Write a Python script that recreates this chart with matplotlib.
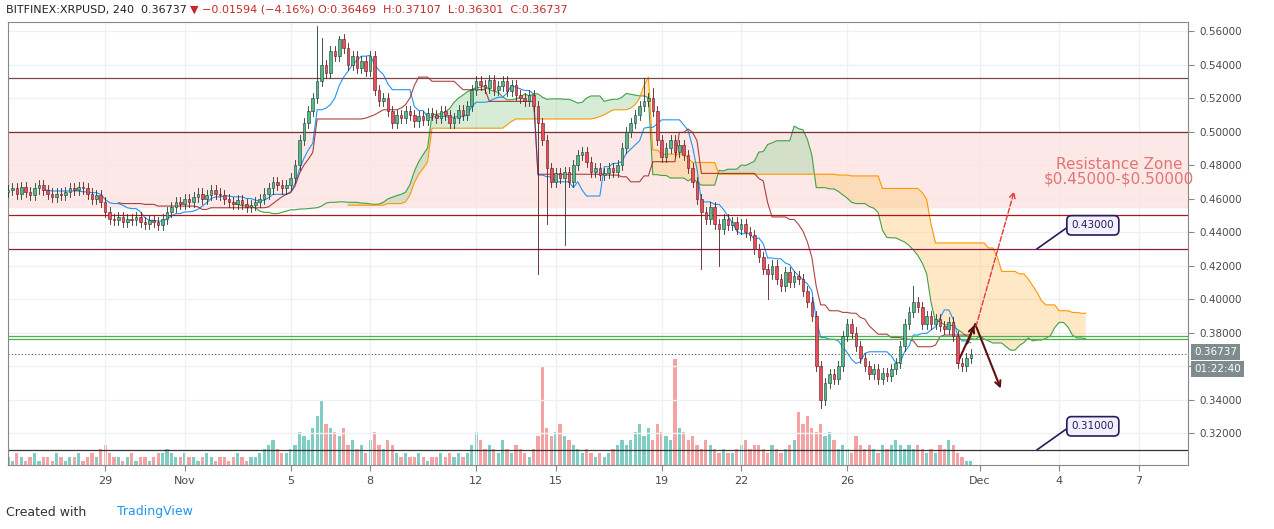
import numpy as np
import pandas as pd
import matplotlib.pyplot as plt
import matplotlib.dates as mdates

# 4h closes, BITFINEX:XRPUSD, from Oct 25 08:00
closes = [
    0.465, 0.466, 0.463, 0.467, 0.464, 0.462, 0.466, 0.468, 0.465, 0.463, 0.461, 0.463,
    0.462, 0.464, 0.466, 0.465, 0.467, 0.466, 0.463, 0.460, 0.462, 0.458, 0.452, 0.448,
    0.447, 0.449, 0.446, 0.448, 0.447, 0.449, 0.446, 0.445, 0.447, 0.446, 0.444, 0.448,
    0.452, 0.455, 0.458, 0.457, 0.460, 0.458, 0.461, 0.463, 0.460, 0.462, 0.465, 0.463,
    0.462, 0.460, 0.458, 0.457, 0.459, 0.457, 0.455, 0.456, 0.458, 0.460, 0.463, 0.466,
    0.470, 0.468, 0.466, 0.468, 0.472, 0.480, 0.495, 0.505, 0.512, 0.520, 0.530, 0.540,
    0.535, 0.548, 0.545, 0.555, 0.550, 0.540, 0.545, 0.538, 0.542, 0.536, 0.545, 0.525,
    0.518, 0.520, 0.512, 0.505, 0.510, 0.508, 0.512, 0.510, 0.506, 0.509, 0.507, 0.511,
    0.510, 0.508, 0.512, 0.510, 0.505, 0.508, 0.513, 0.510, 0.515, 0.525, 0.530, 0.528,
    0.526, 0.531, 0.525, 0.527, 0.530, 0.524, 0.528, 0.522, 0.520, 0.518, 0.522, 0.515,
    0.505, 0.495, 0.478, 0.470, 0.475, 0.472, 0.476, 0.470, 0.480, 0.486, 0.488, 0.482,
    0.476, 0.478, 0.474, 0.475, 0.478, 0.476, 0.480, 0.490, 0.500, 0.505, 0.510, 0.515,
    0.518, 0.520, 0.512, 0.495, 0.485, 0.490, 0.495, 0.488, 0.492, 0.486, 0.478, 0.470,
    0.460, 0.452, 0.448, 0.455, 0.445, 0.442, 0.448, 0.444, 0.446, 0.442, 0.445, 0.440,
    0.438, 0.430, 0.425, 0.418, 0.415, 0.420, 0.412, 0.408, 0.416, 0.410, 0.414, 0.412,
    0.405, 0.398, 0.390, 0.360, 0.340, 0.350, 0.355, 0.352, 0.360, 0.378, 0.385, 0.380,
    0.372, 0.365, 0.360, 0.355, 0.358, 0.352, 0.356, 0.354, 0.358, 0.362, 0.372, 0.385,
    0.392, 0.398, 0.395, 0.385, 0.390, 0.385, 0.388, 0.384, 0.382, 0.386, 0.378, 0.362,
    0.360, 0.365, 0.36737,
]
first_open = 0.464
# notable wicks (index: value)
long_highs = {70: 0.563, 71: 0.556, 75: 0.557, 144: 0.532, 146: 0.526, 205: 0.408}
long_lows = {120: 0.415, 122: 0.445, 126: 0.432, 157: 0.418, 161: 0.420, 172: 0.400, 184: 0.335, 216: 0.357}
wick = 0.003

volumes = [
    2, 1, 3, 2, 1, 2, 3, 1, 2, 2, 1, 3, 2, 1, 2, 2, 3, 1, 2, 3, 2, 4, 5, 3,
    2, 2, 1, 2, 3, 1, 2, 2, 1, 2, 3, 3, 4, 3, 2, 2, 3, 2, 2, 1, 2, 3, 2, 1,
    2, 2, 1, 2, 3, 2, 1, 2, 2, 3, 4, 5, 6, 4, 3, 3, 4, 5, 8, 7, 6, 9, 12, 16,
    10, 9, 8, 7, 9, 5, 6, 4, 5, 3, 6, 8, 5, 4, 6, 5, 3, 2, 3, 2, 2, 3, 2, 1,
    2, 2, 3, 2, 3, 2, 3, 2, 3, 5, 8, 6, 4, 5, 4, 3, 6, 4, 3, 5, 4, 3, 2, 4,
    7, 24, 9, 7, 8, 10, 7, 6, 5, 4, 3, 4, 3, 2, 3, 2, 3, 4, 5, 6, 5, 6, 8, 10,
    7, 9, 6, 10, 8, 7, 6, 26, 9, 8, 6, 7, 5, 4, 6, 5, 4, 3, 4, 3, 3, 4, 5, 6,
    4, 5, 5, 4, 3, 5, 4, 3, 4, 5, 6, 13, 10, 12, 9, 8, 10, 7, 8, 6, 4, 5, 4, 3,
    7, 5, 4, 5, 4, 3, 5, 4, 5, 6, 5, 4, 5, 4, 5, 4, 3, 4, 3, 5, 4, 6, 5, 3,
    2, 1, 1,
]

opens = [first_open] + closes[:-1]
n = len(closes)
highs = [long_highs.get(i, max(opens[i], closes[i]) + wick) for i in range(n)]
lows = [long_lows.get(i, min(opens[i], closes[i]) - wick) for i in range(n)]
times = pd.date_range('2018-10-25 08:00', periods=n, freq='4h')
vols = volumes[:n] + [1] * (n - len(volumes[:n]))

df = pd.DataFrame({'o': opens, 'h': highs, 'l': lows, 'c': closes, 'v': vols}, index=times)

# ichimoku
tenkan = (df.h.rolling(9).max() + df.l.rolling(9).min()) / 2
kijun = (df.h.rolling(26).max() + df.l.rolling(26).min()) / 2
span_a = ((tenkan + kijun) / 2).values
span_b = ((df.h.rolling(52).max() + df.l.rolling(52).min()) / 2).values
fut_times = pd.date_range(times[0] + pd.Timedelta(hours=4 * 26), periods=n, freq='4h')

fig = plt.figure(figsize=(12.74, 5.29), dpi=100)
ax = fig.add_axes([8 / 1274, 64 / 529, 1180 / 1274, 443 / 529])
ax.set_facecolor('white')
ymin, ymax = 0.3009, 0.5654
ax.set_ylim(ymin, ymax)
xl = mdates.date2num(pd.Timestamp('2018-10-25 08:00'))
ax.set_xlim(xl, xl + 1180 / 26.5)

# grid
for p in np.arange(0.32, 0.57, 0.02):
    ax.axhline(p, color='#eef0f3', lw=1, zorder=0)
tick_days = pd.to_datetime(['2018-10-29', '2018-11-01', '2018-11-05', '2018-11-08', '2018-11-12', '2018-11-15',
                            '2018-11-19', '2018-11-22', '2018-11-26', '2018-12-01', '2018-12-04', '2018-12-07'])
tick_labels = ['29', 'Nov', '5', '8', '12', '15', '19', '22', '26', 'Dec', '4', '7']
for d in tick_days:
    ax.axvline(mdates.date2num(d), color='#eef0f3', lw=1, zorder=0)

# resistance zone
ax.axhspan(0.455, 0.50, color='#fbe3e1', alpha=0.8, zorder=0.5)

# volume
axv = ax.twinx()
axv.set_ylim(0, 26 / 0.24)
axv.set_axis_off()
up = df.c >= df.o
axv.bar(df.index[up], df.v[up], width=4 / 24 * 0.75, color='#7fcdc3', zorder=1)
axv.bar(df.index[~up], df.v[~up], width=4 / 24 * 0.75, color='#f3a3a3', zorder=1)
ax.set_zorder(axv.get_zorder() + 1)
ax.patch.set_visible(False)
axv.patch.set_visible(False)

# cloud
ft = mdates.date2num(fut_times)
ax.fill_between(ft, span_a, span_b, where=span_a >= span_b, color='#a5d6a7', alpha=0.45, interpolate=True, lw=0)
ax.fill_between(ft, span_a, span_b, where=span_a < span_b, color='#ffcc80', alpha=0.45, interpolate=True, lw=0)
ax.plot(ft, span_a, color='#43a047', lw=0.8)
ax.plot(ft, span_b, color='#ff9800', lw=0.8)
ax.plot(times, tenkan, color='#2196f3', lw=0.8)
ax.plot(times, kijun, color='#991515', lw=0.8, alpha=0.8)

# candles
w = 4 / 24 * 0.6
for t, r in df.iterrows():
    x = mdates.date2num(t)
    col = '#53b987' if r.c >= r.o else '#eb4d5c'
    ax.plot([x, x], [r.l, r.h], color='#1f3a33' if r.c >= r.o else '#5a1a1a', lw=0.6, zorder=3)
    ax.bar(x, abs(r.c - r.o) or 0.0005, bottom=min(r.o, r.c), width=w,
           color=col, edgecolor='#1f3a33' if r.c >= r.o else '#5a1a1a', lw=0.4, zorder=4)

# levels
ax.axhline(0.532, color='#7a4a4a', lw=0.9)
ax.axhline(0.500, color='#7a3030', lw=0.9)
ax.axhline(0.450, color='#b01818', lw=0.9)
ax.axhline(0.430, color='#8b1a4a', lw=0.9)
ax.axhline(0.378, color='#4caf50', lw=0.9)
ax.axhline(0.376, color='#4caf50', lw=0.9)
ax.axhline(0.310, color='#333333', lw=0.9)
ax.axhline(0.36737, color='#555555', lw=0.8, ls=(0, (1, 2)))

ax.text(mdates.date2num(pd.Timestamp('2018-12-06 06:00')), 0.476, 'Resistance Zone\n\\$0.45000-\\$0.50000',
        color='#e57373', fontsize=11, ha='center', va='center', linespacing=1.0)

# callouts
def callout(px, label):
    x0 = mdates.date2num(pd.Timestamp('2018-12-03 04:00'))
    x1 = mdates.date2num(pd.Timestamp('2018-12-04 10:00'))
    ax.plot([x0, x1], [px, px + 0.014], color='#2a1a5a', lw=1.2)
    ax.text(x1 + 0.05, px + 0.014, label, fontsize=7.5, color='#2a1a5a', ha='left', va='center',
            bbox=dict(boxstyle='round,pad=0.45', fc='#f0f0ff', ec='#2a1a5a', lw=1.2))
callout(0.43, '0.43000')
callout(0.31, '0.31000')

# arrows
d = lambda s: mdates.date2num(pd.Timestamp(s))
ax.annotate('', xy=(d('2018-12-02 08:00'), 0.466), xytext=(d('2018-11-30 20:00'), 0.382),
            arrowprops=dict(arrowstyle='->', color='#e53935', lw=1, ls='--'))
ax.plot([d('2018-11-30 04:00'), d('2018-11-30 20:00')], [0.362, 0.385], color='#5d1010', lw=1.5)
ax.annotate('', xy=(d('2018-12-01 20:00'), 0.345), xytext=(d('2018-11-30 20:00'), 0.385),
            arrowprops=dict(arrowstyle='->', color='#5d1010', lw=1.5))
ax.annotate('', xy=(d('2018-11-30 20:00'), 0.386), xytext=(d('2018-11-30 12:00'), 0.372),
            arrowprops=dict(arrowstyle='->', color='#5d1010', lw=1.5))

# axes styling
ax.set_xticks(mdates.date2num(tick_days))
ax.set_xticklabels(tick_labels, fontsize=8, color='#4a4a4a')
ax.yaxis.tick_right()
yt = np.arange(0.32, 0.57, 0.02)
ax.set_yticks(yt)
# 0.36 label is hidden behind the last-price / countdown boxes
ax.set_yticklabels(['' if abs(p - 0.36) < 1e-6 else f'{p:.5f}' for p in yt], fontsize=7.5, color='#4a4a4a')
ax.tick_params(length=4, color='#888888', pad=4)
for s in ax.spines.values():
    s.set_color('#888888')
    s.set_linewidth(0.8)

ax.text(1.005, 0.3685, '0.36737', transform=ax.get_yaxis_transform(), fontsize=7.5, color='white',
        va='center', bbox=dict(boxstyle='square,pad=0.3', fc='#7f8c8d', ec='none'))
ax.text(1.005, 0.358, '01:22:40', transform=ax.get_yaxis_transform(), fontsize=7.5, color='white',
        va='center', bbox=dict(boxstyle='square,pad=0.3', fc='#7f8c8d', ec='none'))

fig.text(6 / 1274, 1 - 10 / 529, 'BITFINEX:XRPUSD, 240  0.36737 ', fontsize=8, color='#222222', va='center')
fig.text(190 / 1274, 1 - 10 / 529, '\u25bc \u22120.01594 (\u22124.16%)', fontsize=8, color='#c62828', va='center')
fig.text(318 / 1274, 1 - 10 / 529, 'O:0.36469  H:0.37107  L:0.36301  C:0.36737', fontsize=8, color='#c62828', va='center')
fig.text(6 / 1274, 17 / 529, 'Created with', fontsize=9, color='#333333', va='center')
fig.text(117 / 1274, 17 / 529, 'TradingView', fontsize=9, color='#2196f3', va='center')

fig.savefig('out.png', dpi=100)
